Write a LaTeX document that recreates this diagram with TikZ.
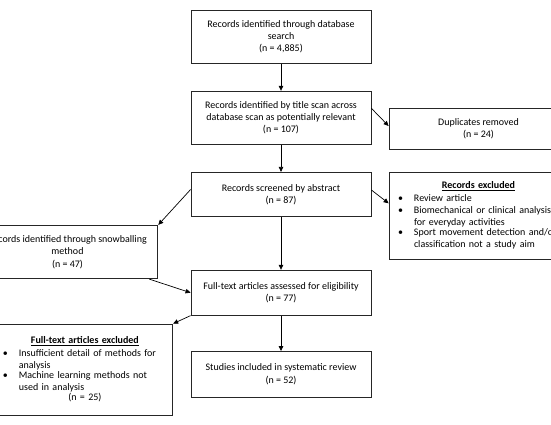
\documentclass[tikz,border=0pt]{standalone}
\usepackage{fontspec}
\setmainfont{Carlito}
\usepackage{tikz}
\usetikzlibrary{arrows.meta,positioning}
\newcommand{\bitem}[1]{\par\noindent\hbox to 16pt{\textbullet\hfil}%
  \parbox[t]{\dimexpr\hsize-16pt\relax}{\baselineskip=12.4pt\raggedright #1}\par}

\begin{document}
\begin{tikzpicture}[
    x=1pt,y=-1pt,
    bx/.style  = {rectangle,draw=black!85,line width=0.8pt,align=center,
                  font=\fontsize{10}{12.4}\selectfont,inner sep=0pt,
                  minimum width=180pt},
    lst/.style = {rectangle,draw=black!85,line width=0.8pt,align=left,
                  font=\fontsize{10}{12.4}\selectfont,inner sep=0pt},
    fl/.style  = {-{Triangle[length=5pt,width=4.5pt]},black,line width=0.7pt},
  ]
  \useasboundingbox (0,0) rectangle (551,424);

  \node[bx,minimum height=53pt] (db)  at (281,36.7)
       {Records identified through database\\search\\(n = 4,885)};
  \node[bx,minimum height=53pt] (ttl) at (281,117.7)
       {Records identified by title scan across\\database scan as potentially relevant\\(n = 107)};
  \node[bx,minimum width=179pt,minimum height=41pt] (dup) at (478.5,128.8)
       {Duplicates removed\\(n = 24)};
  \node[bx,minimum height=44.4pt] (abs) at (281,194.5)
       {Records screened by abstract\\(n = 87)};
  \node[lst,text width=161pt,minimum width=179pt,minimum height=86.7pt] (rex) at (478.5,215.6)
       {{\centering\underline{\textbf{Records excluded}}\par}
        \bitem{Review article}
        \bitem{Biomechanical or clinical analysis\newline for everyday activities}
        \bitem{\mbox{Sport movement detection and/or}\newline classification not a study aim}};
  \node[bx,minimum width=180.7pt,minimum height=53.4pt] (snw) at (67.5,252)
       {Records identified through snowballing\\method\\(n = 47)};
  \node[bx,minimum height=45pt] (ful) at (281,292.7)
       {Full-text articles assessed for eligibility\\(n = 77)};
  \node[lst,text width=164pt,minimum width=175.7pt,minimum height=91pt] (fex) at (84.9,369.5)
       {{\centering\underline{\textbf{Full-text articles excluded}}\par}
        \bitem{Insufficient detail of methods for\newline analysis}
        \bitem{Machine learning methods not\newline used in analysis}
        {\centering (n = 25)\par}};
  \node[bx,minimum height=45.7pt] (inc) at (281,374.3)
       {Studies included in systematic review\\(n = 52)};

  \draw[fl] (db) -- (ttl);
  \draw[fl] ([yshift=9.4pt]ttl.east) -- ([yshift=2.8pt]dup.west);
  \draw[fl] (ttl) -- (abs);
  \draw[fl] ([yshift=4.5pt]abs.east) -- ([yshift=12.3pt]rex.west);
  \draw[fl] ([yshift=5pt]abs.west) -- (snw.north east);
  \draw[fl] (abs) -- (ful);
  \draw[fl] ([xshift=-9pt]snw.south east) -- (ful.west);
  \draw[fl] (ful.south west) -- (fex.north east);
  \draw[fl] (ful) -- (inc);

\end{tikzpicture}
\end{document}
